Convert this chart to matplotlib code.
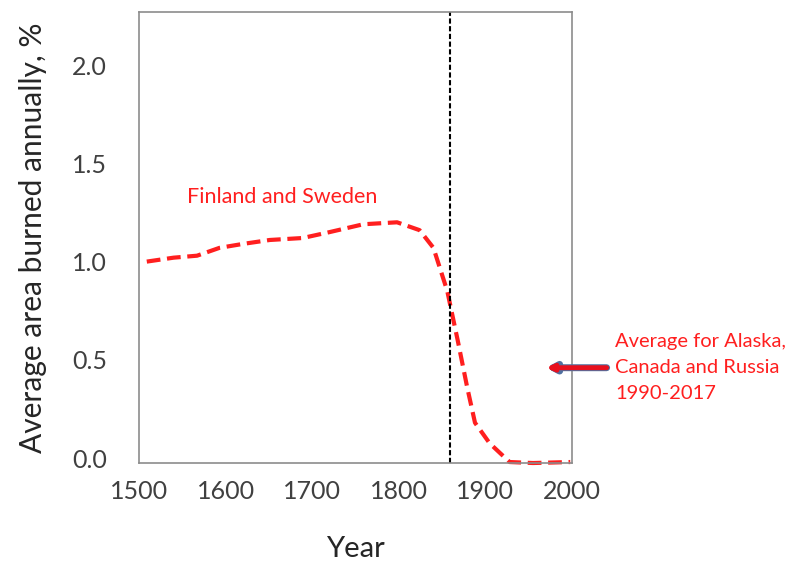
import matplotlib
matplotlib.use("Agg")
import matplotlib.pyplot as plt

# ---------------------------------------------------------------------------- #
#                                     Data                                     #
# ---------------------------------------------------------------------------- #
years = [1509, 1540, 1567, 1593, 1620, 1651, 1689, 1720, 1759, 1798, 1824,
         1840, 1856, 1868, 1879, 1888, 1905, 1928, 1955, 1998]
burned = [1.00, 1.02, 1.03, 1.07, 1.09, 1.11, 1.12, 1.15, 1.19, 1.20, 1.16,
          1.07, 0.85, 0.60, 0.36, 0.18, 0.075, -0.02, -0.025, -0.02]

divide_year = 1859
modern_avg = 0.46

x_ticks = [1500, 1600, 1700, 1800, 1900, 2000]
y_ticks = [0.0, 0.5, 1.0, 1.5, 2.0]

RED = "#ff1f1f"
plt.rcParams['font.family'] = ['Lato', 'DejaVu Sans']

# ---------------------------------------------------------------------------- #
#                                   Plotting                                   #
# ---------------------------------------------------------------------------- #
fig = plt.figure(figsize=(7.92, 5.65), dpi=100)
ax = fig.add_axes([0.1755, 0.1805, 0.5467, 0.7982])

ax.plot(years, burned, color=RED, lw=3, ls=(0, (3.3, 1.6)), clip_on=False)
ax.axvline(divide_year, color="black", lw=1.5, ls=(0, (2.5, 1.2)))

ax.set_xlim(1500, 2000)
ax.set_ylim(-0.025, 2.27)
ax.set_xticks(x_ticks)
ax.set_yticks(y_ticks)
ax.set_yticklabels([f"{v:.1f}" for v in y_ticks])
ax.tick_params(length=0, labelsize=18, colors="#404040")
ax.tick_params(axis='y', pad=23)
ax.tick_params(axis='x', pad=12)
for s in ax.spines.values():
    s.set_color("#8c8c8c")
    s.set_linewidth(1.2)

ax.set_xlabel("Year", fontsize=21, color="#262626", labelpad=24)
ax.set_ylabel("Average area burned annually, %", fontsize=21.5,
              color="#262626", labelpad=18)

ax.text(1665, 1.33, "Finland and Sweden", color=RED, fontsize=15.5,
        ha="center", va="center")

# red arrow with a thin blue outline: blue underneath, red on top
for col, w, hl, hw in [("#5070a0", 5, 0.45, 0.24), ("#e8101e", 3.5, 0.38, 0.18)]:
    ax.annotate("", xy=(1970, modern_avg), xytext=(2040, modern_avg),
                annotation_clip=False,
                arrowprops=dict(arrowstyle=f"-|>,head_length={hl},head_width={hw}",
                                color=col, lw=w, shrinkA=0, shrinkB=0))
ax.text(2050, modern_avg, "Average for Alaska,\nCanada and Russia\n1990-2017",
        color=RED, fontsize=14.5, ha="left", va="center", linespacing=1.65,
        clip_on=False)

fig.savefig("out.png", dpi=100)
